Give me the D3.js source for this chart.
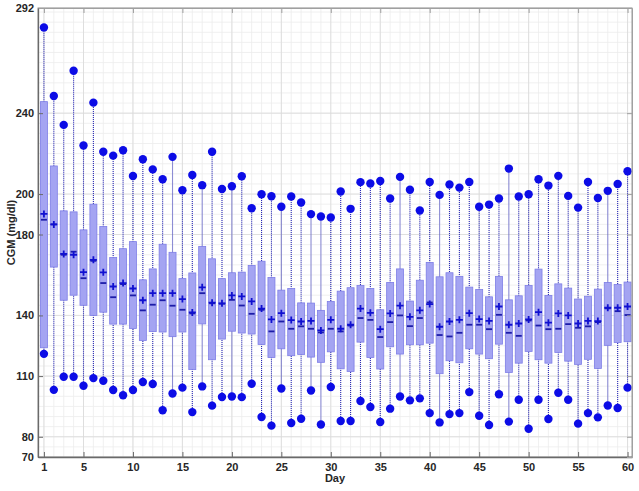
<!DOCTYPE html>
<html><head><meta charset="utf-8">
<script src="https://cdn.jsdelivr.net/npm/d3@7"></script>
<style>
body{margin:0;background:#fff;}
text{font-family:"Liberation Sans",Arial,Helvetica,sans-serif;}
</style></head>
<body><svg id="c" width="639" height="491"></svg>
<script>
const days = d3.range(1, 61);
const minV = [121,103.2,109.7,109.7,105.2,109,107.7,103.1,100.5,103.1,107.1,106.1,93.1,101.4,104.3,92.2,104.9,95.4,99.7,99.9,99.6,106.2,89.8,85.5,103.9,86.8,88.9,102.9,86.1,104.6,87.8,87.8,97.7,94.7,87.3,93.9,99.9,98,99,91.7,87.1,91.2,91.7,102.1,90.4,85.8,101,87.5,98.3,84,98.3,88.8,101.8,98.3,86.5,91.7,89.6,95.5,94.2,104.3];
const q1V = [124,163.9,147.5,150,145,140,141.6,135.7,135.7,133.5,127.6,132,131.8,129.5,131.8,113.2,135.8,118.1,128.3,132.2,131.3,130.8,125.6,119.2,123.5,120.1,120.7,119.4,116.8,122,113.6,112.3,126.8,119.2,113.5,124.5,120.9,125.5,125.5,126.3,111.2,117.6,116.6,123.5,120.9,118.6,125.8,111.8,116.4,122.2,118.1,116.4,121.7,117.4,115.8,118.3,113.8,125.2,126.6,127];
const medV = [187.3,185,170,171.5,158.4,167,156,149,155.5,149.9,142.5,145.3,147.5,144.8,142.8,141,151,146,145.8,147.7,144.9,140.8,142.8,132.1,137,133.4,134.6,133.4,131.6,133.4,132.1,135,138.7,137.8,129.3,136.7,140,134.7,138.7,146.4,130.3,129.6,131.4,135.4,135.4,133.2,140.3,131.4,129.9,137.5,135,133.2,133.4,135.7,133.9,134.6,136.7,143.5,142.1,140.2];
const meanV = [190.2,185,170.4,170,161.4,167.5,161.3,154.3,156,153.3,147.5,151,151,151,148.1,141.5,153.9,146.3,146,149.9,149.4,146.9,143.4,138,141.1,137.7,137,137.3,132.6,137.8,133.4,135.4,143.4,141.3,133.2,141,144.8,139.3,142.5,145.6,134.4,137,137.8,141.1,138.2,137.3,144.4,135.4,136,138,141.6,136.4,141,140,136,137.3,137.2,143.8,143.8,144.4];
const q3V = [245.7,213.9,191.7,191.2,182.3,195,184,168.6,173,176.5,157.6,163,175.2,171.2,158.2,161,174.1,168,158.2,161.1,161.4,164.7,166.8,158.8,152.5,153.3,146.2,146.1,142.5,146.9,152,153.7,154.8,153.3,142.8,156.3,163,147.1,157.4,166.2,159.1,161.1,159.3,154,152.8,149.2,159.3,147.7,149.7,154.8,162.9,149.9,155.6,153.5,148.1,149.5,153,156.3,155.3,156.5];
const maxV = [282.4,248.5,234.2,261,224,245.2,220.9,219,221.7,208.9,217.2,212.2,207.3,218.4,201.9,209.4,204.4,220.9,202.5,203.9,208.8,193,199.9,198.9,193.7,198.8,195.8,190.1,188.9,188.4,201.3,192.7,205.9,205.2,206.5,197.8,208.5,202.1,191.9,206,199.6,204.7,203.2,206,193.7,194.8,197.8,212.6,198.8,199.9,207.3,204.2,209,199.1,193.3,206,198.1,201.6,205,211.3];
const xTicks = [1,5,10,15,20,25,30,35,40,45,50,55,60];
const yTicks = [70,80,110,140,180,200,240,292];

const L=38,R=632,T=8,B=457;
const svg = d3.select('#c');
const x = d3.scaleLinear().domain([0.4,60.45]).range([L,R]);
const y = d3.scaleLinear().domain([70,292]).range([B,T]);

// grid
const g = svg.append('g');
g.selectAll('.vm').data(d3.range(1,61)).enter().append('line')
 .attr('x1',d=>x(d)).attr('x2',d=>x(d)).attr('y1',T).attr('y2',B)
 .attr('stroke','#ececec').attr('stroke-width',0.8);
g.selectAll('.hm').data(d3.range(70,293,5)).enter().append('line')
 .attr('y1',d=>y(d)).attr('y2',d=>y(d)).attr('x1',L).attr('x2',R)
 .attr('stroke','#ececec').attr('stroke-width',0.8);
g.selectAll('.vM').data(xTicks).enter().append('line')
 .attr('x1',d=>x(d)).attr('x2',d=>x(d)).attr('y1',T).attr('y2',B)
 .attr('stroke','#d9d9d9').attr('stroke-width',0.8);
g.selectAll('.hM').data(yTicks).enter().append('line')
 .attr('y1',d=>y(d)).attr('y2',d=>y(d)).attr('x1',L).attr('x2',R)
 .attr('stroke','#d9d9d9').attr('stroke-width',0.8);

const data = days.map((d,i)=>({d,min:minV[i],q1:q1V[i],med:medV[i],mean:meanV[i],q3:q3V[i],max:maxV[i]}));
const bw = 7;
const m = svg.append('g');
// whiskers
m.selectAll('.wh').data(data).enter().append('line')
 .attr('x1',d=>x(d.d)).attr('x2',d=>x(d.d)).attr('y1',d=>y(d.min)).attr('y2',d=>y(d.max))
 .attr('stroke','#2a2ab8').attr('stroke-width',1.1).attr('stroke-dasharray','1,1');
// boxes
m.selectAll('.bx').data(data).enter().append('rect')
 .attr('x',d=>x(d.d)-bw/2).attr('width',bw)
 .attr('y',d=>y(d.q3)).attr('height',d=>y(d.q1)-y(d.q3))
 .attr('fill','#a4a4f2').attr('stroke','#7e7ee6').attr('stroke-width',0.8);
// median
m.selectAll('.md').data(data).enter().append('line')
 .attr('x1',d=>x(d.d)-3).attr('x2',d=>x(d.d)+3).attr('y1',d=>y(d.med)).attr('y2',d=>y(d.med))
 .attr('stroke','#1c1ca8').attr('stroke-width',1.8);
// mean +
m.selectAll('.mh').data(data).enter().append('path')
 .attr('d',d=>{const cx=x(d.d),cy=y(d.mean);return `M${cx-3.5},${cy}H${cx+3.5}M${cx},${cy-3.5}V${cy+3.5}`;})
 .attr('stroke','#1010d0').attr('stroke-width',1.8).attr('fill','none');
// circles
m.selectAll('.cmin').data(data).enter().append('circle')
 .attr('cx',d=>x(d.d)).attr('cy',d=>y(d.min)).attr('r',4.2).attr('fill','#0c0ce6');
m.selectAll('.cmax').data(data).enter().append('circle')
 .attr('cx',d=>x(d.d)).attr('cy',d=>y(d.max)).attr('r',4.2).attr('fill','#0c0ce6');

// frame
svg.append('rect').attr('x',L).attr('y',T).attr('width',R-L).attr('height',B-T)
 .attr('fill','none').attr('stroke','#9a9a9a').attr('stroke-width',1);

// axes
const ax = svg.append('g').attr('transform',`translate(0,${B})`)
 .call(d3.axisBottom(x).tickValues(xTicks).tickSize(-5).tickPadding(6).tickSizeOuter(0));
const ay = svg.append('g').attr('transform',`translate(${L},0)`)
 .call(d3.axisLeft(y).tickValues(yTicks).tickSize(-5).tickPadding(4).tickSizeOuter(0));
const at = svg.append('g').attr('transform',`translate(0,${T})`)
 .call(d3.axisTop(x).tickValues(xTicks).tickSize(-5).tickFormat('').tickSizeOuter(0));
const ar = svg.append('g').attr('transform',`translate(${R},0)`)
 .call(d3.axisRight(y).tickValues(yTicks).tickSize(-5).tickFormat('').tickSizeOuter(0));
[ax,ay].forEach(a=>{
 a.select('.domain').attr('stroke','#6a6a6a').attr('stroke-width',1.3);
 a.selectAll('.tick line').attr('stroke','#6a6a6a');
 a.selectAll('text').attr('font-size',11).attr('font-weight','bold').attr('fill','#262626')
  .style('font-family','"Liberation Sans",Arial,sans-serif');
});
[at,ar].forEach(a=>{
 a.select('.domain').attr('stroke','#a0a0a0');
 a.selectAll('.tick line').attr('stroke','#a0a0a0');
});

svg.append('text').attr('x',(L+R)/2).attr('y',482).attr('text-anchor','middle')
 .attr('font-size',11).attr('font-weight','bold').attr('fill','#262626').text('Day');
svg.append('text').attr('transform',`translate(15,${(T+B)/2}) rotate(-90)`).attr('text-anchor','middle')
 .attr('font-size',11).attr('font-weight','bold').attr('fill','#262626').text('CGM (mg/dl)');
</script></body></html>
